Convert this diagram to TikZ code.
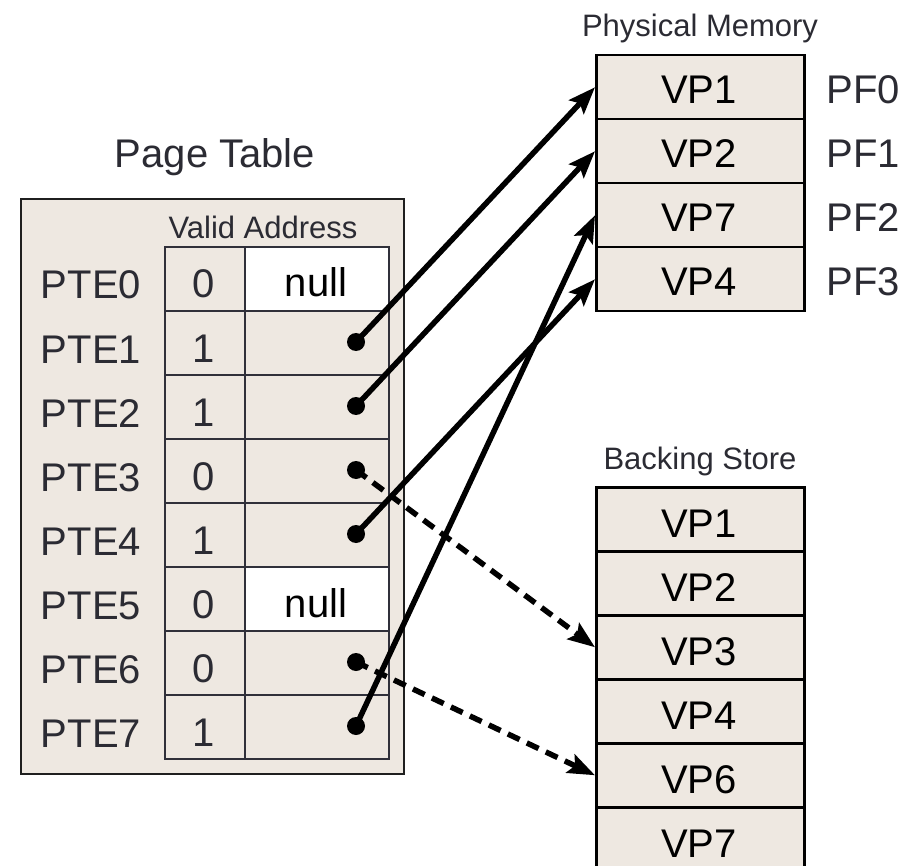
\documentclass[tikz,border=0pt]{standalone}
\usepackage{fontspec}
\setmainfont{Liberation Sans}
\usetikzlibrary{arrows.meta}
\definecolor{paper}{HTML}{EEE8E1}
\definecolor{ink}{HTML}{2B2B33}
\definecolor{grid}{HTML}{30303A}
\tikzset{
  big/.style={font=\fontsize{40}{48}\selectfont, text=ink, inner sep=0pt},
  boxtext/.style={big, text=black},
  small/.style={font=\fontsize{31}{37}\selectfont, text=ink, inner sep=0pt},
  vcell/.style={draw=grid, line width=2pt, fill=paper, minimum width=80pt,
    minimum height=64pt, anchor=north west, inner sep=0pt},
  acell/.style={vcell, minimum width=144pt},
  mcell/.style={draw=black, line width=2.5pt, fill=paper, minimum width=208pt,
    minimum height=64pt, anchor=north west, inner sep=0pt},
  ptrdot/.style={circle, fill=black, minimum size=18pt, inner sep=0pt},
  ptr/.style={line width=5.5pt, -{Stealth[length=27pt,width=20pt,inset=5pt]}},
  swapped/.style={ptr, dash pattern=on 13pt off 8pt},
}
\begin{document}
\begin{tikzpicture}[x=1pt,y=-1pt]
\useasboundingbox (0,0) rectangle (907,866);

% page table frame and headings
\node[draw=black!88, line width=2pt, fill=paper, minimum width=383pt,
  minimum height=575pt, anchor=north west, inner sep=0pt] (pt) at (20,198) {};
\node[big, anchor=base] (pttitle) at (215,168) {Page Table};
\node[small, anchor=base] (vahead) at (263,239) {Valid Address};

% entries: valid bit and address field
\foreach \i/\v/\f in {0/0/white,1/1/paper,2/1/paper,3/0/paper,4/1/paper,5/0/white,6/0/paper,7/1/paper} {
  \node[vcell] (v\i) at (164,246+64*\i) {};
  \node[acell, fill=\f] (a\i) at (244,246+64*\i) {};
  \node[big, anchor=base] (pte\i) at (91,299+64*\i) {PTE\i};
  \node[big, anchor=base] (val\i) at (204,298+64*\i) {\v};
}
\node[boxtext, anchor=base] (null0) at (316,297) {null};
\node[boxtext, anchor=base] (null5) at (316,297+64*5) {null};

% physical memory frames
\node[small, anchor=base] (pmtitle) at (700,37) {Physical Memory};
\foreach \i/\t in {0/VP1,1/VP2,2/VP7,3/VP4} {
  \node[mcell] (m\i) at (595,54+64*\i) {};
  \node[boxtext, anchor=base] (mt\i) at (699,104+64*\i) {\t};
  \node[big, anchor=base] (pf\i) at (863,104+64*\i) {PF\i};
}

% backing store pages
\node[small, anchor=base] (bstitle) at (700,469) {Backing Store};
\foreach \i/\t in {0/VP1,1/VP2,2/VP3,3/VP4,4/VP6,5/VP7} {
  \node[mcell] (b\i) at (595,486+64*\i) {};
  \node[boxtext, anchor=base] (bt\i) at (699,537+64*\i) {\t};
}

% pointer origins in the address column
\foreach \i in {1,2,3,4,6,7} {
  \node[ptrdot] (d\i) at (356,278+64*\i) {};
}

% resident pages point into physical memory
\draw[ptr] (d1.center) -- (m0.west);
\draw[ptr] (d2.center) -- (m1.west);
\draw[ptr] (d4.center) -- (m3.west);
\draw[ptr] (d7.center) -- (m2.west);

% non-resident pages point into the backing store
\draw[swapped] (d3.center) -- (b2.west);
\draw[swapped] (d6.center) -- (b4.west);
\end{tikzpicture}
\end{document}
